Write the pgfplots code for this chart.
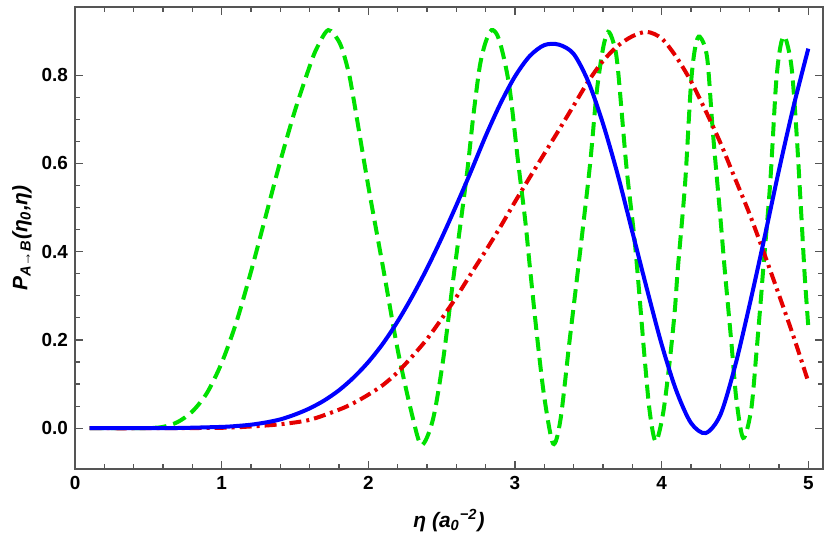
\documentclass[border=0pt]{standalone}
\usepackage{fontspec}
\setmainfont{Liberation Sans}
\usepackage{pgfplots}
\pgfplotsset{compat=1.18}

\definecolor{mblue}{RGB}{0,0,255}
\definecolor{mred}{RGB}{228,0,0}
\definecolor{mgreen}{RGB}{0,224,0}
\definecolor{frame}{RGB}{85,85,85}

\begin{document}
\begin{tikzpicture}
\begin{axis}[
    scale only axis,
    width=374bp, height=231.3bp,
    xmin=0, xmax=5.1,
    ymin=-0.093, ymax=0.955,
    clip=false,
    axis line style={frame, line width=0.8bp},
    xtick={0,1,2,3,4,5},
    ytick={0,0.2,0.4,0.6,0.8},
    minor x tick num=4,
    minor y tick num=3,
    tick align=inside,
    major tick length=4bp,
    minor tick length=2.5bp,
    every tick/.style={frame, line width=0.6bp},
    /pgf/number format/assume math mode=true,
    ticklabel style={font=\fontsize{9.5}{11}\selectfont\bfseries, text=black},
    yticklabel style={/pgf/number format/.cd, fixed, fixed zerofill, precision=1},
    xlabel={η (\textit{a}\textsubscript{0}\textsuperscript{−2})},
    ylabel={\textit{P}\textsubscript{\textit{A}→\textit{B}}(η\textsubscript{0},η)},
    label style={font=\fontsize{10.5}{12}\selectfont\bfseries\itshape},
    xlabel style={at={(rel axis cs:0.5,-0.11)}, anchor=center},
    ylabel style={at={(rel axis cs:-0.071,0.5)}, anchor=center},
]
% fixes the page to the reference's proportions
\path (rel axis cs:-0.1003,-0.157) rectangle (rel axis cs:1.0094,1.0145);

% green, dashed
\addplot[mgreen, line width=2bp, dash pattern=on 7bp off 3.5bp, smooth, tension=0.5] coordinates {
(0.1,0) (0.3,0) (0.5,0.0005) (0.6,0.003) (0.7,0.014) (0.8,0.038)
(0.9,0.08) (1.0,0.148) (1.1,0.24) (1.2,0.355) (1.3,0.48) (1.4,0.605)
(1.5,0.72) (1.6,0.82) (1.65,0.862) (1.727,0.902) (1.806,0.872)
(1.863,0.81) (1.9,0.745) (2.0,0.548) (2.1,0.365) (2.2,0.178)
(2.3,0.028) (2.363,-0.038) (2.44,0.019)
(2.51,0.155) (2.58,0.34) (2.67,0.57) (2.715,0.705) (2.76,0.82)
(2.80,0.875) (2.84,0.902) (2.88,0.89) (2.92,0.845) (2.965,0.766)
(3.02,0.607) (3.07,0.47) (3.10,0.37) (3.15,0.21) (3.20,0.07)
(3.26,-0.035) (3.31,0.019) (3.37,0.192) (3.43,0.36) (3.51,0.592)
(3.556,0.758) (3.60,0.86) (3.635,0.898) (3.67,0.875) (3.70,0.82)
(3.76,0.592) (3.82,0.411) (3.885,0.155) (3.92,0.034) (3.96,-0.03)
(4.01,0.034) (4.056,0.155) (4.09,0.268) (4.11,0.36) (4.16,0.555)
(4.20,0.78) (4.23,0.865) (4.26,0.887) (4.31,0.84) (4.35,0.668)
(4.40,0.479) (4.43,0.36) (4.476,0.192) (4.51,0.064) (4.556,-0.022)
(4.61,0.041) (4.646,0.17) (4.68,0.306) (4.69,0.35) (4.74,0.555)
(4.78,0.78) (4.81,0.865) (4.84,0.887) (4.885,0.82) (4.92,0.668)
(4.953,0.479) (4.976,0.343) (5.0,0.23)
};

% red, dash-dotted
\addplot[mred, line width=2bp, dash pattern=on 6bp off 2.5bp on 1.5bp off 2.5bp, smooth] coordinates {
(0.1,0) (0.5,0) (1.0,0.001) (1.2,0.004) (1.4,0.009) (1.6,0.019)
(1.8,0.042) (1.9,0.057) (2.0,0.076) (2.1,0.098) (2.2,0.127)
(2.3,0.163) (2.4,0.202) (2.5,0.248) (2.6,0.297) (2.7,0.35)
(2.8,0.402) (2.9,0.456) (3.0,0.513) (3.1,0.568) (3.2,0.622)
(3.3,0.676) (3.4,0.731) (3.5,0.786) (3.6,0.832) (3.7,0.866)
(3.8,0.888) (3.9,0.898) (4.0,0.883) (4.1,0.841) (4.2,0.786)
(4.3,0.719) (4.4,0.647) (4.5,0.566) (4.6,0.485) (4.7,0.395)
(4.8,0.302) (4.9,0.207) (5.0,0.105)
};

% blue, solid
\addplot[mblue, line width=2bp, smooth] coordinates {
(0.1,0) (0.4,0) (0.7,0.0005) (1.0,0.003) (1.1,0.005) (1.2,0.008)
(1.3,0.013) (1.4,0.02) (1.5,0.031) (1.6,0.045) (1.7,0.063)
(1.8,0.086) (1.9,0.115) (2.0,0.15) (2.1,0.192) (2.2,0.242)
(2.3,0.299) (2.4,0.362) (2.5,0.431) (2.6,0.505) (2.7,0.582)
(2.8,0.662) (2.9,0.735) (3.0,0.797) (3.1,0.843) (3.2,0.868)
(3.3,0.869) (3.4,0.848) (3.5,0.785) (3.6,0.69)
(3.7,0.575) (3.8,0.445) (3.9,0.315) (4.0,0.19) (4.1,0.085)
(4.2,0.012) (4.3,-0.011) (4.4,0.03) (4.5,0.14)
(4.6,0.28) (4.7,0.43) (4.8,0.585) (4.9,0.73) (5.0,0.86)
};
\end{axis}
\end{tikzpicture}
\end{document}
